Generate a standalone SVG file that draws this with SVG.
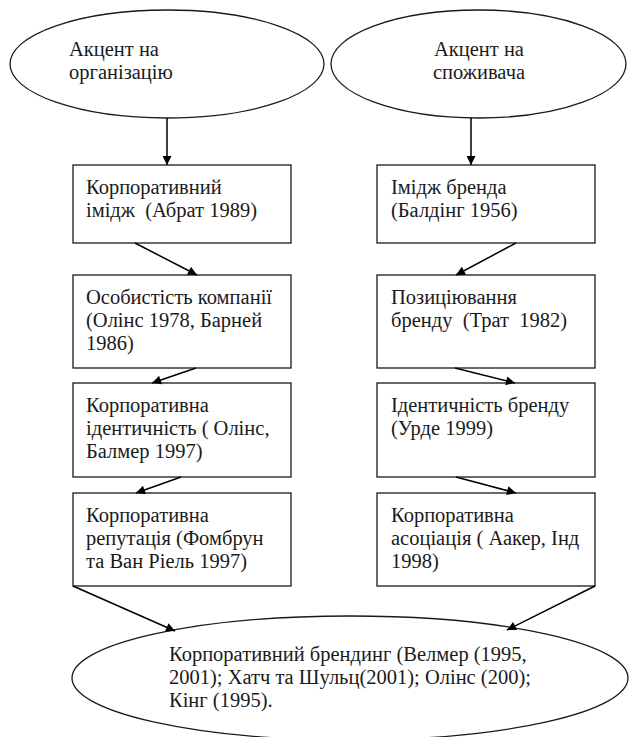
<svg xmlns="http://www.w3.org/2000/svg" width="629" height="737" viewBox="0 0 629 737">
<defs>
<marker id="ah" viewBox="0 0 10 10" refX="10" refY="5" markerWidth="11" markerHeight="9" markerUnits="userSpaceOnUse" orient="auto">
<path d="M0,0 L10,5 L0,10 z" fill="#000"/>
</marker>
<style>
.s{fill:#fff;stroke:#1a1a1a;stroke-width:1.3}
.c{stroke:#000;stroke-width:1.5;fill:none;marker-end:url(#ah)}
</style>
</defs>
<rect width="629" height="737" fill="#fff"/>
<g font-family="'Liberation Serif', 'Times New Roman', serif" font-size="20.5" fill="#1a1a1a">
<g id="org">
<ellipse class="s" cx="167" cy="64" rx="157" ry="54"/>
<text x="69" y="56">Акцент на</text>
<text x="69" y="79">організацію</text>
</g>
<g id="cons">
<ellipse class="s" cx="478.5" cy="64" rx="147.5" ry="54"/>
<text x="434" y="56">Акцент на</text>
<text x="433" y="79">споживача</text>
</g>
<g id="l1">
<rect class="s" x="73" y="165" width="218" height="78"/>
<text x="86" y="194">Корпоративний</text>
<text x="86" y="217" xml:space="preserve">імідж  (Абрат 1989)</text>
</g>
<g id="r1">
<rect class="s" x="377" y="165" width="218" height="78"/>
<text x="391" y="194">Імідж бренда</text>
<text x="391" y="217">(Балдінг 1956)</text>
</g>
<g id="l2">
<rect class="s" x="73" y="275" width="218" height="93"/>
<text x="86" y="304">Особистість компанії</text>
<text x="86" y="327">(Олінс 1978, Барней</text>
<text x="86" y="350">1986)</text>
</g>
<g id="r2">
<rect class="s" x="377" y="275" width="218" height="93"/>
<text x="391" y="304">Позиціювання</text>
<text x="391" y="327" xml:space="preserve">бренду  (Трат  1982)</text>
</g>
<g id="l3">
<rect class="s" x="73" y="383" width="218" height="94"/>
<text x="86" y="412">Корпоративна</text>
<text x="86" y="435">ідентичність ( Олінс,</text>
<text x="86" y="458">Балмер 1997)</text>
</g>
<g id="r3">
<rect class="s" x="377" y="383" width="218" height="94"/>
<text x="391" y="412">Ідентичність бренду</text>
<text x="391" y="435">(Урде 1999)</text>
</g>
<g id="l4">
<rect class="s" x="73" y="493" width="218" height="93"/>
<text x="86" y="522">Корпоративна</text>
<text x="86" y="545">репутація (Фомбрун</text>
<text x="86" y="568">та Ван Ріель 1997)</text>
</g>
<g id="r4">
<rect class="s" x="377" y="493" width="218" height="93"/>
<text x="391" y="522">Корпоративна</text>
<text x="391" y="545">асоціація ( Аакер, Інд</text>
<text x="391" y="568">1998)</text>
</g>
<g id="brand">
<ellipse class="s" cx="350" cy="678" rx="278" ry="62"/>
<text x="169" y="661">Корпоративний брендинг (Велмер (1995,</text>
<text x="169" y="684">2001); Хатч та Шульц(2001); Олінс (200);</text>
<text x="169" y="707">Кінг (1995).</text>
</g>
</g>
<g id="connectors">
<line class="c" x1="167" y1="118" x2="167" y2="165"/>
<line class="c" x1="471" y1="118" x2="471" y2="165"/>
<line class="c" x1="135" y1="243" x2="197" y2="275"/>
<line class="c" x1="516" y1="243" x2="456" y2="275"/>
<line class="c" x1="196" y1="368" x2="152" y2="383"/>
<line class="c" x1="455" y1="368" x2="515" y2="383"/>
<line class="c" x1="181" y1="477" x2="136" y2="493"/>
<line class="c" x1="456" y1="477" x2="516" y2="493"/>
<line class="c" x1="73" y1="586" x2="175" y2="631"/>
<line class="c" x1="595" y1="586" x2="507" y2="630"/>
</g>
</svg>
